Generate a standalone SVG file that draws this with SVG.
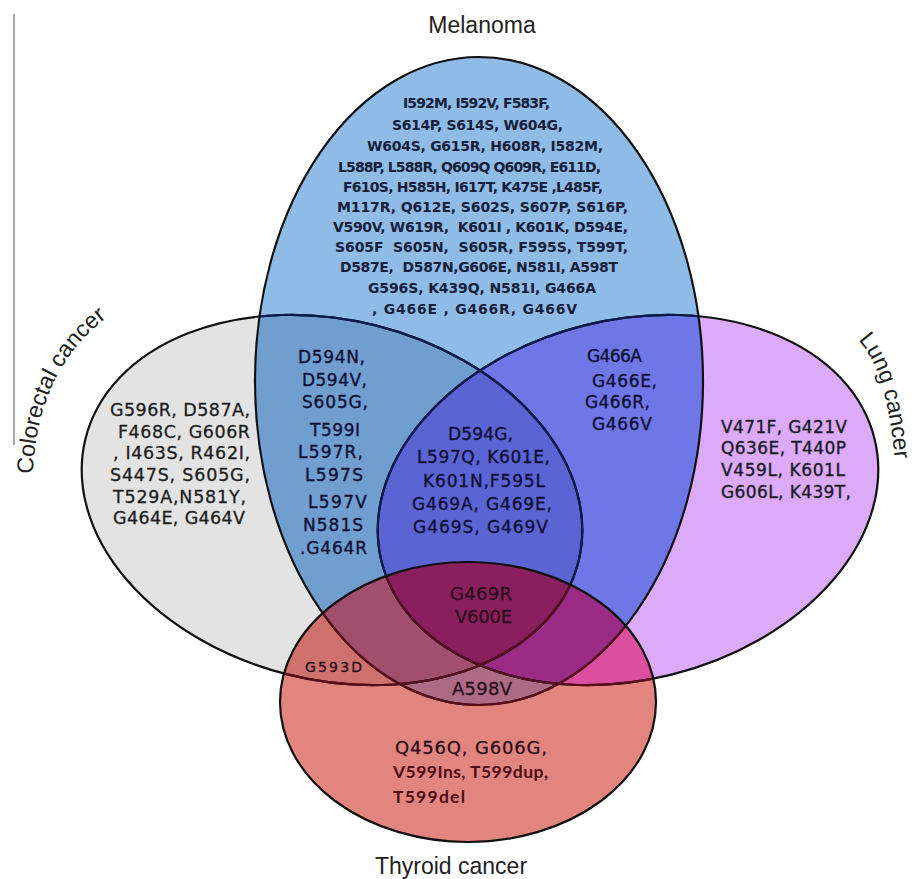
<svg xmlns="http://www.w3.org/2000/svg" xmlns:xlink="http://www.w3.org/1999/xlink" width="919" height="879" viewBox="0 0 919 879">
<style>
  .o { fill: none; stroke: #111; stroke-width: 2.2; }
  .ib { fill: none; stroke: #0c1a4e; stroke-width: 2.2; }
  .ir { fill: none; stroke: #5a0c1a; stroke-width: 2.2; }
  .lbl { font-family: "Liberation Sans", Arial, sans-serif; font-size: 23px; fill: #222; }
  .mel { font-family: "DejaVu Sans", sans-serif; font-weight: bold; font-size: 14px; fill: #16203a; white-space: pre; }
  .t { font-family: "DejaVu Sans", sans-serif; font-size: 17px; fill: #1b1b24; stroke: #1b1b24; stroke-width: 0.35; }
  .tc { font-family: "DejaVu Sans", sans-serif; font-size: 17.5px; fill: #1d1d1d; stroke: #1d1d1d; stroke-width: 0.3; }
  .tb { font-family: "DejaVu Sans", sans-serif; font-size: 17px; fill: #0e1035; stroke: #0e1035; stroke-width: 0.35; }
  .tr { font-family: "DejaVu Sans", sans-serif; font-size: 18px; fill: #2a0c1c; stroke: #2a0c1c; stroke-width: 0.3; }
  .cal { font-family: Lato, "DejaVu Sans", sans-serif; font-weight: bold; font-size: 17.5px; fill: #4e0c14; }
</style>
<defs>
  <ellipse id="eC" cx="332" cy="500" rx="254" ry="180" transform="rotate(14 332 500)"/>
  <ellipse id="eL" cx="628" cy="500" rx="254" ry="180" transform="rotate(-14 628 500)"/>
  <ellipse id="eM" cx="479" cy="381" rx="224" ry="324"/>
  <ellipse id="eT" cx="468" cy="702" rx="188" ry="140"/>
  <clipPath id="cC"><use xlink:href="#eC"/></clipPath>
  <clipPath id="cL"><use xlink:href="#eL"/></clipPath>
  <clipPath id="cM"><use xlink:href="#eM"/></clipPath>
  <clipPath id="cT"><use xlink:href="#eT"/></clipPath>
  <path id="pColo" d="M 33,474 C 35,412 57,352 112,314"/>
  <path id="pLung" d="M 858,340 C 879,362 891,402 897,484"/>
</defs>

<rect width="919" height="879" fill="#ffffff"/>
<line x1="14" y1="14" x2="14" y2="445" stroke="#888" stroke-width="1.5"/>

<!-- region fills -->
<g id="fills">
  <use xlink:href="#eC" fill="#e3e3e3"/>
  <use xlink:href="#eL" fill="#dbaaf8"/>
  <use xlink:href="#eM" fill="#8fbce6"/>
  <g clip-path="url(#cM)">
    <use xlink:href="#eC" fill="#6f9ecf"/>
    <use xlink:href="#eL" fill="#6f76e6"/>
    <g clip-path="url(#cC)"><use xlink:href="#eL" fill="#5a64d2"/></g>
  </g>
  <use xlink:href="#eT" fill="#e3857f"/>
  <g clip-path="url(#cT)">
    <use xlink:href="#eC" fill="#cf726e"/>
    <use xlink:href="#eL" fill="#dc4f9e"/>
    <g clip-path="url(#cM)">
      <use xlink:href="#eM" fill="#ad6a84"/>
      <use xlink:href="#eC" fill="#a14f6c"/>
      <use xlink:href="#eL" fill="#9a2c86"/>
      <g clip-path="url(#cC)"><use xlink:href="#eL" fill="#8a1f60"/></g>
    </g>
  </g>
</g>

<!-- outlines -->
<g id="outlines">
  <use xlink:href="#eC" class="o"/>
  <use xlink:href="#eL" class="o"/>
  <use xlink:href="#eM" class="o"/>
  <g clip-path="url(#cM)">
    <use xlink:href="#eC" class="ib"/>
    <use xlink:href="#eL" class="ib"/>
  </g>
  <g clip-path="url(#cT)">
    <use xlink:href="#eC" class="ir"/>
    <use xlink:href="#eL" class="ir"/>
    <use xlink:href="#eM" class="ir"/>
  </g>
  <use xlink:href="#eT" class="o"/>
</g>

<g id="melanoma">
  <text class="lbl" x="482" y="33" text-anchor="middle">Melanoma</text>
  <text class="mel" x="403" y="108" textLength="147" lengthAdjust="spacing">I592M, I592V, F583F,</text>
  <text class="mel" x="392" y="130" textLength="171" lengthAdjust="spacing">S614P, S614S, W604G,</text>
  <text class="mel" x="367" y="151" textLength="236" lengthAdjust="spacing">W604S, G615R, H608R, I582M,</text>
  <text class="mel" x="338" y="172" textLength="263" lengthAdjust="spacing">L588P, L588R, Q609Q Q609R, E611D,</text>
  <text class="mel" x="343" y="192" textLength="260" lengthAdjust="spacing">F610S, H585H, I617T, K475E ,L485F,</text>
  <text class="mel" x="337" y="212" textLength="291" lengthAdjust="spacing">M117R, Q612E, S602S, S607P, S616P,</text>
  <text class="mel" x="333" y="232" textLength="295" lengthAdjust="spacing">V590V, W619R,  K601I , K601K, D594E,</text>
  <text class="mel" x="335" y="252" textLength="293" lengthAdjust="spacing">S605F  S605N,  S605R, F595S, T599T,</text>
  <text class="mel" x="340" y="272" textLength="278" lengthAdjust="spacing">D587E,  D587N,G606E, N581I, A598T</text>
  <text class="mel" x="368" y="293" textLength="228" lengthAdjust="spacing">G596S, K439Q, N581I, G466A</text>
  <text class="mel" x="372" y="314" textLength="205" lengthAdjust="spacing">, G466E , G466R, G466V</text>
</g>

<g id="colorectal-cancer">
  <text class="lbl"><textPath xlink:href="#pColo">Colorectal cancer</textPath></text>
  <text class="tc" x="110" y="416" textLength="140" lengthAdjust="spacing">G596R, D587A,</text>
  <text class="tc" x="118" y="437.7" textLength="132" lengthAdjust="spacing">F468C, G606R</text>
  <text class="tc" x="113" y="459.3" textLength="137" lengthAdjust="spacing">, I463S, R462I,</text>
  <text class="tc" x="110" y="481" textLength="140" lengthAdjust="spacing">S447S, S605G,</text>
  <text class="tc" x="113" y="502.5" textLength="133" lengthAdjust="spacing">T529A,N581Y,</text>
  <text class="tc" x="113" y="524" textLength="132" lengthAdjust="spacing">G464E, G464V</text>
</g>

<g id="lung-cancer">
  <text class="lbl"><textPath xlink:href="#pLung">Lung cancer</textPath></text>
  <text class="t" x="721" y="432.7" textLength="126" lengthAdjust="spacing">V471F, G421V</text>
  <text class="t" x="721" y="454.3" textLength="125" lengthAdjust="spacing">Q636E, T440P</text>
  <text class="t" x="721" y="476" textLength="124" lengthAdjust="spacing">V459L, K601L</text>
  <text class="t" x="721" y="497.7" textLength="130" lengthAdjust="spacing">G606L, K439T,</text>
</g>

<g id="thyroid-cancer">
  <text class="lbl" x="451" y="874" text-anchor="middle">Thyroid cancer</text>
  <text class="tr" x="395" y="754" textLength="152" lengthAdjust="spacing">Q456Q, G606G,</text>
  <text class="cal" x="393" y="778" textLength="155" lengthAdjust="spacing">V599Ins, T599dup,</text>
  <text class="cal" x="393" y="803" textLength="72" lengthAdjust="spacing">T599del</text>
</g>

<g id="intersections">
  <g id="colorectal-melanoma">
    <text class="tb" x="298" y="362.8" textLength="67" lengthAdjust="spacing">D594N,</text>
    <text class="tb" x="302" y="386" textLength="65" lengthAdjust="spacing">D594V,</text>
    <text class="tb" x="302" y="407.8" textLength="66" lengthAdjust="spacing">S605G,</text>
    <text class="tb" x="310" y="436" textLength="50" lengthAdjust="spacing">T599I</text>
    <text class="tb" x="298" y="457.8" textLength="65" lengthAdjust="spacing">L597R,</text>
    <text class="tb" x="305" y="481" textLength="58" lengthAdjust="spacing">L597S</text>
    <text class="tb" x="308" y="507.8" textLength="59" lengthAdjust="spacing">L597V</text>
    <text class="tb" x="303" y="531" textLength="60" lengthAdjust="spacing">N581S</text>
    <text class="tb" x="300" y="554.3" textLength="67" lengthAdjust="spacing">.G464R</text>
  </g>
  <g id="colorectal-lung-melanoma">
    <text class="tb" x="448" y="440" textLength="65" lengthAdjust="spacing">D594G,</text>
    <text class="tb" x="417" y="463.3" textLength="133" lengthAdjust="spacing">L597Q, K601E,</text>
    <text class="tb" x="423" y="486.7" textLength="122" lengthAdjust="spacing">K601N,F595L</text>
    <text class="tb" x="412" y="510" textLength="140" lengthAdjust="spacing">G469A, G469E,</text>
    <text class="tb" x="413" y="533.3" textLength="135" lengthAdjust="spacing">G469S, G469V</text>
  </g>
  <g id="lung-melanoma">
    <text class="tb" x="587" y="361.7" textLength="55" lengthAdjust="spacing">G466A</text>
    <text class="tb" x="592" y="386.7" textLength="65" lengthAdjust="spacing">G466E,</text>
    <text class="tb" x="585" y="408.3" textLength="65" lengthAdjust="spacing">G466R,</text>
    <text class="tb" x="592" y="430" textLength="60" lengthAdjust="spacing">G466V</text>
  </g>
  <g id="all-four">
    <text class="tr" x="450" y="600" textLength="62" lengthAdjust="spacing">G469R</text>
    <text class="tr" x="455" y="623" textLength="57" lengthAdjust="spacing">V600E</text>
  </g>
  <g id="melanoma-thyroid">
    <text class="tr" x="452" y="695" textLength="60" lengthAdjust="spacing">A598V</text>
  </g>
  <g id="colorectal-thyroid">
    <text class="tr" x="305" y="671.5" style="font-size:14px" textLength="57" lengthAdjust="spacing">G593D</text>
  </g>
</g>
</svg>
